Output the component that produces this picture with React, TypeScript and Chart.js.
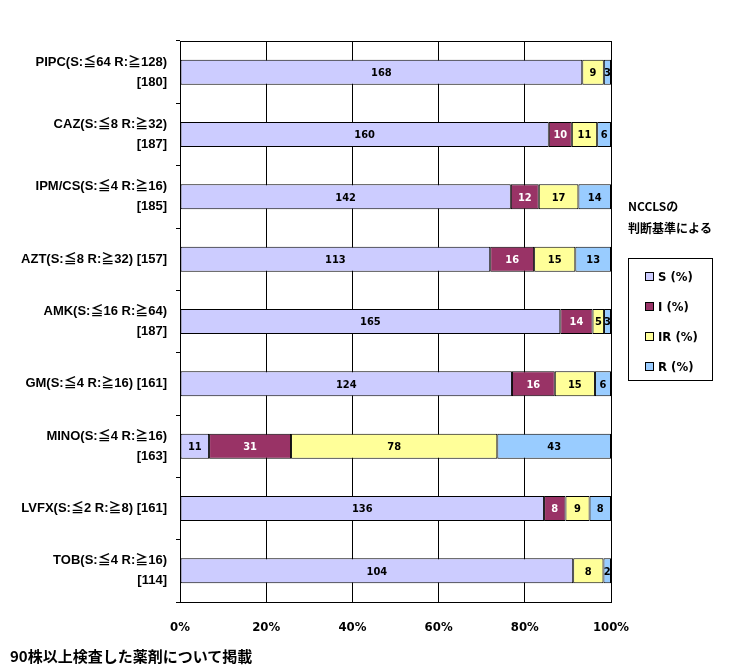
import React, { useEffect, useRef } from "react";
import { Chart, registerables } from "chart.js";
Chart.register(...registerables);

const categories: string[][] = [
  ["PIPC(S:≦64 R:≧128)", "[180]"],
  ["CAZ(S:≦8 R:≧32)", "[187]"],
  ["IPM/CS(S:≦4 R:≧16)", "[185]"],
  ["AZT(S:≦8 R:≧32) [157]"],
  ["AMK(S:≦16 R:≧64)", "[187]"],
  ["GM(S:≦4 R:≧16) [161]"],
  ["MINO(S:≦4 R:≧16)", "[163]"],
  ["LVFX(S:≦2 R:≧8) [161]"],
  ["TOB(S:≦4 R:≧16)", "[114]"],
];
const sCounts = [168, 160, 142, 113, 165, 124, 11, 136, 104];
const iCounts = [0, 10, 12, 16, 14, 16, 31, 8, 0];
const irCounts = [9, 11, 17, 15, 5, 15, 78, 9, 8];
const rCounts = [3, 6, 14, 13, 3, 6, 43, 8, 2];
const seriesLabels = ["S (%)", "I (%)", "IR (%)", "R (%)"];
const seriesColors = ["#CCCCFF", "#993366", "#FFFF99", "#99CCFF"];
const labelColors = ["#000000", "#FFFFFF", "#000000", "#000000"];
const legendTitle = ["NCCLSの", "判断基準による"];
const footnote = "90株以上検査した薬剤について掲載";

const FONT = "'DejaVu Sans Condensed', 'Noto Sans CJK JP', sans-serif";
const LABEL_FONT = "'Liberation Sans', 'Noto Sans CJK JP', sans-serif";
const CJK = "'Noto Sans CJK JP', sans-serif";

export default function App() {
  const ref = useRef<HTMLCanvasElement | null>(null);
  useEffect(() => {
    if (!ref.current) return;
    const counts = [sCounts, iCounts, irCounts, rCounts];
    const totals = sCounts.map((_, i) => counts.reduce((a, c) => a + c[i], 0));
    const datasets = counts.map((c, k) => ({
      label: seriesLabels[k],
      data: c.map((v, i) => (v / totals[i]) * 100),
      backgroundColor: seriesColors[k],
      borderColor: "#000",
      borderWidth: 1,
      borderSkipped: false as const,
      barPercentage: 0.4,
      categoryPercentage: 1,
    }));

    const deco = {
      id: "deco",
      afterDatasetsDraw(chart: any) {
        const ctx = chart.ctx;
        ctx.save();
        ctx.font = `bold 11px ${FONT}`;
        ctx.textAlign = "center";
        ctx.textBaseline = "middle";
        chart.data.datasets.forEach((ds: any, k: number) => {
          const meta = chart.getDatasetMeta(k);
          meta.data.forEach((el: any, i: number) => {
            const v = counts[k][i];
            if (!v) return;
            const p = el.getCenterPoint();
            ctx.fillStyle = labelColors[k];
            ctx.fillText(String(v), p.x, p.y + 1);
          });
        });
        ctx.restore();
      },
      afterDraw(chart: any) {
        const ctx = chart.ctx;
        const a = chart.chartArea;
        ctx.save();
        ctx.strokeStyle = "#000";
        ctx.lineWidth = 1;
        ctx.beginPath();
        ctx.moveTo(Math.round(a.left) + 0.5, Math.round(a.top) + 0.5);
        ctx.lineTo(Math.round(a.right) + 0.5, Math.round(a.top) + 0.5);
        ctx.lineTo(Math.round(a.right) + 0.5, Math.round(a.bottom) + 0.5);
        ctx.stroke();
        // legend title
        ctx.fillStyle = "#000";
        ctx.textAlign = "left";
        ctx.textBaseline = "middle";
        ctx.font = `bold 12px ${CJK}`;
        ctx.fillText(legendTitle[0], 628, 206);
        ctx.fillText(legendTitle[1], 628, 228);
        // legend box
        ctx.strokeRect(628.5, 258.5, 84, 122);
        ctx.font = `bold 13px ${FONT}`;
        chart.data.datasets.forEach((ds: any, k: number) => {
          const y = 277 + k * 30;
          ctx.fillStyle = ds.backgroundColor;
          ctx.fillRect(645.5, y - 4.5, 8, 8);
          ctx.strokeRect(645.5, y - 4.5, 8, 8);
          ctx.fillStyle = "#000";
          ctx.fillText(ds.label, 658, y + 1);
        });
        ctx.restore();
      },
    };

    const chart = new Chart(ref.current, {
      type: "bar",
      data: { labels: categories, datasets },
      options: {
        indexAxis: "y",
        responsive: false,
        animation: false,
        devicePixelRatio: 1,
        layout: { padding: { top: 41, right: 127, left: 0, bottom: 0 } },
        plugins: { legend: { display: false }, tooltip: { enabled: false } },
        scales: {
          x: {
            stacked: true,
            min: 0,
            max: 100,
            ticks: {
              stepSize: 20,
              callback: (v: any) => v + "%",
              color: "#000",
              font: { family: FONT, size: 13, weight: "bold" },
              padding: 18,
              maxRotation: 0,
            },
            grid: { color: "#000", tickLength: 0, lineWidth: 1 },
            border: { color: "#000" },
            afterFit: (s: any) => {
              s.height = 70;
            },
          },
          y: {
            stacked: true,
            ticks: {
              color: "#000",
              font: { family: LABEL_FONT, size: 13, weight: "bold", lineHeight: 1.55 },
              padding: 9,
            },
            grid: { drawOnChartArea: false, tickLength: 4, color: "#000", offset: true },
            border: { color: "#000" },
            afterFit: (s: any) => {
              s.width = 180;
            },
          },
        },
      } as any,
      plugins: [deco],
    });
    return () => chart.destroy();
  }, []);

  return (
    <div style={{ position: "absolute", left: 0, top: 0, width: 738, height: 672, background: "#fff" }}>
      <canvas ref={ref} width={738} height={672} style={{ width: 738, height: 672, display: "block" }} />
      <div
        style={{
          position: "absolute",
          left: 10,
          top: 646,
          fontFamily: CJK,
          fontWeight: "bold",
          fontSize: 15,
          lineHeight: "20px",
          color: "#000",
          whiteSpace: "nowrap",
        }}
      >
        {footnote}
      </div>
    </div>
  );
}
